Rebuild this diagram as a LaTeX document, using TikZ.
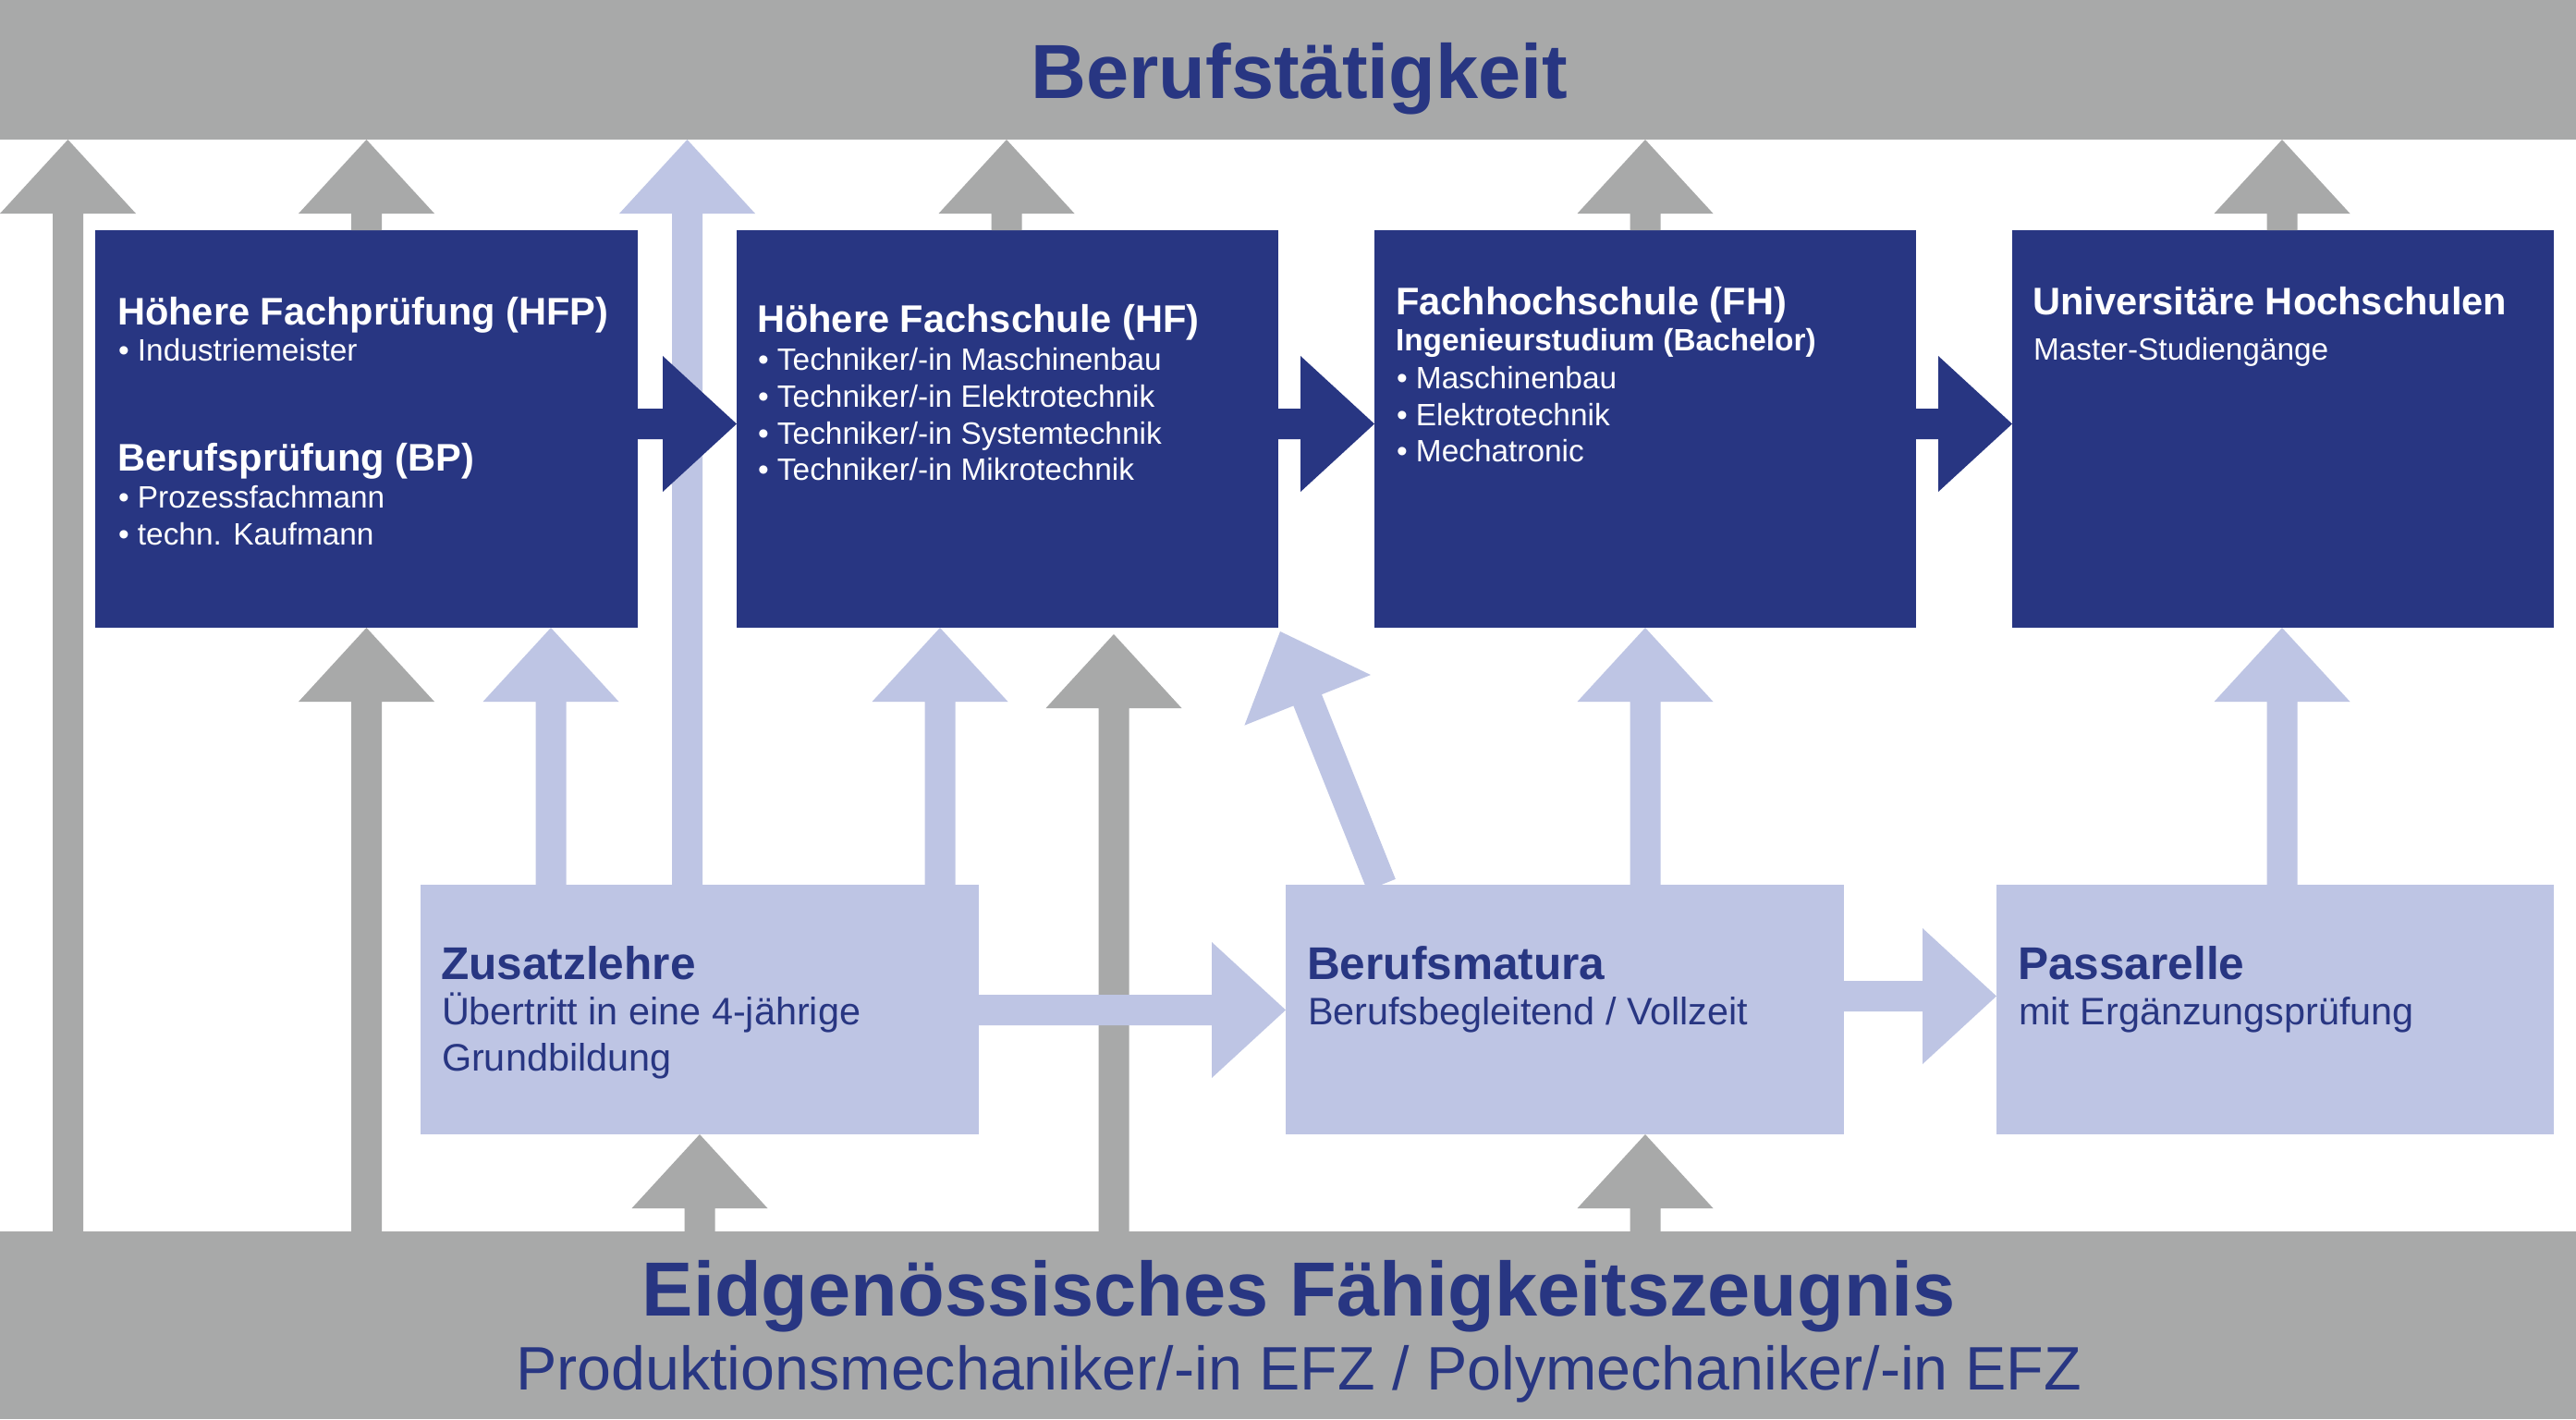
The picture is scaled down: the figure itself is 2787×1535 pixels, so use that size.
\documentclass[tikz,border=0pt]{standalone}
\usepackage{fontspec}
\setmainfont{Liberation Sans}
\usetikzlibrary{calc,fit}
\definecolor{dkblue}{RGB}{40,54,130}
\definecolor{grayc}{RGB}{168,169,169}
\definecolor{ltblue}{RGB}{190,197,228}

% block arrow: colour, start point, tip point
\newcommand\blockarrow[3]{%
  \coordinate (ba-s) at (#2);
  \coordinate (ba-t) at (#3);
  \coordinate (ba-h) at ($(ba-t)!20pt!(ba-s)$);
  \fill[#1] ($(ba-s)!4.125pt!90:(ba-t)$) -- ($(ba-h)!4.125pt!90:(ba-t)$)
    -- ($(ba-h)!18.375pt!90:(ba-t)$) -- (ba-t)
    -- ($(ba-h)!18.375pt!-90:(ba-t)$) -- ($(ba-h)!4.125pt!-90:(ba-t)$)
    -- ($(ba-s)!4.125pt!-90:(ba-t)$) -- cycle;
}

\tikzset{
  boxdk/.style={fill=dkblue, inner sep=0pt, outer sep=0pt},
  boxlt/.style={fill=ltblue, inner sep=0pt, outer sep=0pt},
  barbox/.style={fill=grayc, inner sep=0pt, outer sep=0pt},
  txt/.style={anchor=base west, inner sep=0pt, outer sep=0pt},
  ta/.style={txt, text=white, font=\bfseries\fontsize{10.4pt}{12pt}\selectfont},
  tb/.style={txt, text=white, font=\fontsize{8.35pt}{10pt}\selectfont},
  tbb/.style={txt, text=white, font=\bfseries\fontsize{8.35pt}{10pt}\selectfont},
  ua/.style={txt, text=dkblue, font=\bfseries\fontsize{12.4pt}{14pt}\selectfont},
  ub/.style={txt, text=dkblue, font=\fontsize{10.35pt}{12pt}\selectfont},
  bigt/.style={anchor=base, inner sep=0pt, text=dkblue, font=\bfseries\fontsize{20.75pt}{24pt}\selectfont},
  subt/.style={anchor=base, inner sep=0pt, text=dkblue, font=\fontsize{16.6pt}{19pt}\selectfont},
}

\begin{document}
\begin{tikzpicture}[x=0.25pt, y=-0.25pt]
\useasboundingbox[fill=white] (0,0) rectangle (2787,1535);

% bars
\node[barbox, fit={(0,0) (2787,151)}] (top) {};
\node[barbox, fit={(0,1332) (2787,1535)}] (bot) {};

% boxes
\node[boxdk, fit={(103,249) (690,679)}] (hfp) {};
\node[boxdk, fit={(797,249) (1383,679)}] (hf) {};
\node[boxdk, fit={(1487,249) (2073,679)}] (fh) {};
\node[boxdk, fit={(2177,249) (2763,679)}] (uh) {};
\node[boxlt, fit={(455,957) (1059,1227)}] (zus) {};
\node[boxlt, fit={(1391,957) (1995,1227)}] (bm) {};
\node[boxlt, fit={(2160,957) (2763,1227)}] (pas) {};

% column / row coordinates
\coordinate (x1) at (73.5,0);
\coordinate (x2) at (396.5,0);
\coordinate (x3) at (596,0);
\coordinate (x4) at (743.5,0);
\coordinate (x5) at (757,0);
\coordinate (x6) at (1017,0);
\coordinate (x7) at (1089,0);
\coordinate (x8) at (1205,0);
\coordinate (xd) at (1494.5,0);
\coordinate (x9) at (1780,0);
\coordinate (x10) at (2469,0);
\coordinate (y1) at (0,458.5);
\coordinate (y2) at (0,1092.5);
\coordinate (y3) at (0,1077.5);

% gray arrows
\blockarrow{grayc}{bot.north -| x1}{top.south -| x1}
\blockarrow{grayc}{hfp.north -| x2}{top.south -| x2}
\blockarrow{grayc}{bot.north -| x2}{hfp.south -| x2}
\blockarrow{grayc}{hf.north -| x7}{top.south -| x7}
\blockarrow{grayc}{bot.north -| x8}{$(hf.south -| x8)+(0,7)$}
\blockarrow{grayc}{fh.north -| x9}{top.south -| x9}
\blockarrow{grayc}{uh.north -| x10}{top.south -| x10}
\blockarrow{grayc}{bot.north -| x5}{zus.south -| x5}
\blockarrow{grayc}{bot.north -| x9}{bm.south -| x9}

% light arrows
\blockarrow{ltblue}{zus.north -| x4}{top.south -| x4}
\blockarrow{ltblue}{zus.north -| x3}{hfp.south -| x3}
\blockarrow{ltblue}{zus.north -| x6}{hf.south -| x6}
\blockarrow{ltblue}{bm.north -| xd}{$(hf.south east)+(2,4)$}
\blockarrow{ltblue}{bm.north -| x9}{fh.south -| x9}
\blockarrow{ltblue}{pas.north -| x10}{uh.south -| x10}
\blockarrow{ltblue}{zus.east |- y2}{bm.west |- y2}
\blockarrow{ltblue}{bm.east |- y3}{pas.west |- y3}

% dark arrows
\blockarrow{dkblue}{hfp.east |- y1}{hf.west |- y1}
\blockarrow{dkblue}{hf.east |- y1}{fh.west |- y1}
\blockarrow{dkblue}{fh.east |- y1}{uh.west |- y1}

% titles
\node[bigt] (ttop) at (1406,106) {Berufstätigkeit};
\node[bigt] (tbot) at (1405,1423) {Eidgenössisches Fähigkeitszeugnis};
\node[subt] (tsub) at (1405,1503) {Produktionsmechaniker/-in EFZ / Polymechaniker/-in EFZ};

% HFP / BP
\node[ta] (hfpT) at (127,351) {Höhere Fachprüfung (HFP)};
\node[tb] (hfpA) at (128,390) {• Industriemeister};
\node[ta] (bpT) at (127,509) {Berufsprüfung (BP)};
\node[tb] (bpA) at (128,549) {• Prozessfachmann};
\node[tb] (bpB) at (128,589) {• techn. Kaufmann};

% HF
\node[ta] (hfT) at (819,359) {Höhere Fachschule (HF)};
\node[tb] (hfA) at (820,400) {• Techniker/-in Maschinenbau};
\node[tb] (hfB) at (820,440) {• Techniker/-in Elektrotechnik};
\node[tb] (hfC) at (820,480) {• Techniker/-in Systemtechnik};
\node[tb] (hfD) at (820,519) {• Techniker/-in Mikrotechnik};

% FH
\node[ta] (fhT) at (1510,340) {Fachhochschule (FH)};
\node[tbb] (fhS) at (1510,379) {Ingenieurstudium (Bachelor)};
\node[tb] (fhA) at (1511,420) {• Maschinenbau};
\node[tb] (fhB) at (1511,460) {• Elektrotechnik};
\node[tb] (fhC) at (1511,499) {• Mechatronic};

% UH
\node[ta] (uhT) at (2199,340) {Universitäre Hochschulen};
\node[tb] (uhA) at (2200,389) {Master-Studiengänge};

% lower boxes
\node[ua] (zusT) at (477,1059) {Zusatzlehre};
\node[ub] (zusA) at (478,1108) {Übertritt in eine 4-jährige};
\node[ub] (zusB) at (478,1158) {Grundbildung};
\node[ua] (bmT) at (1414,1059) {Berufsmatura};
\node[ub] (bmA) at (1415,1108) {Berufsbegleitend / Vollzeit};
\node[ua] (pasT) at (2183,1059) {Passarelle};
\node[ub] (pasA) at (2184,1108) {mit Ergänzungsprüfung};
\end{tikzpicture}
\end{document}
